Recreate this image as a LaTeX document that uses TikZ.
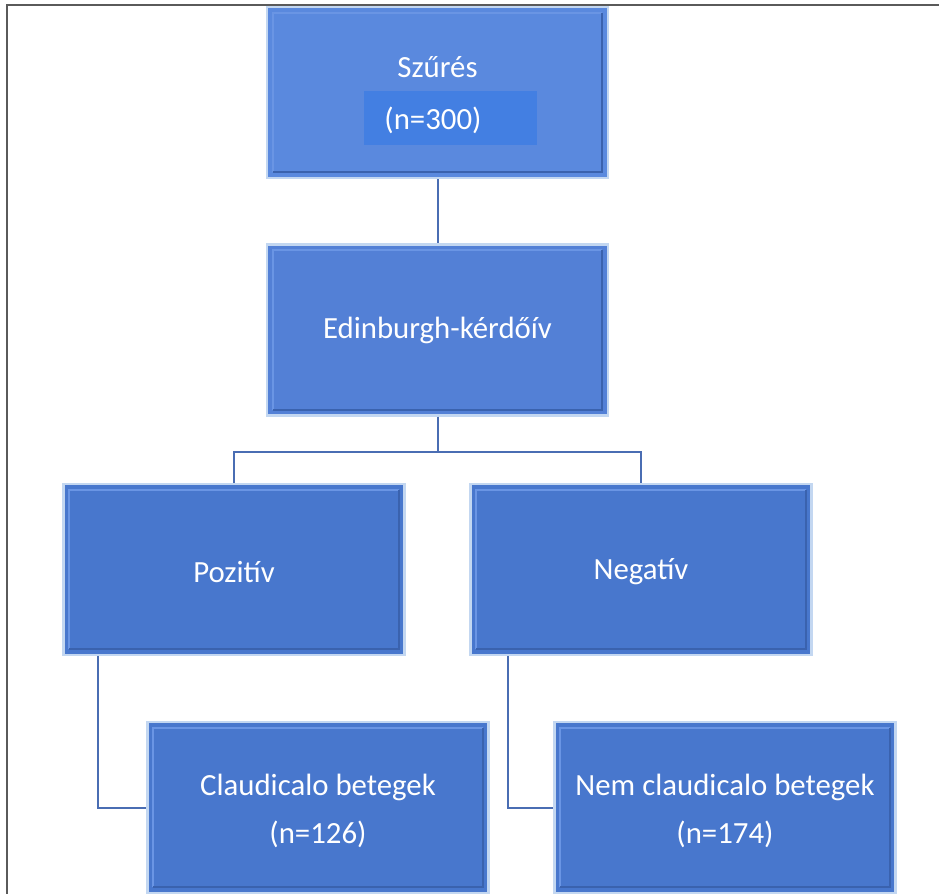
\documentclass[tikz,border=0pt]{standalone}
\usepackage{fontspec}
\setmainfont{Carlito}
\definecolor{frame}{HTML}{5A5A5A}
\definecolor{topblue}{HTML}{5A89DE}
\definecolor{midblue}{HTML}{5380D6}
\definecolor{boxblue}{HTML}{4877CD}
\definecolor{edge}{HTML}{C3D7F1}
\definecolor{bevlight}{HTML}{6A95E4}
\definecolor{bevdark}{HTML}{3A62AE}
\definecolor{conn}{HTML}{4A6DB3}
\definecolor{hilite}{HTML}{437FE2}
\tikzset{
  box/.style={rectangle, draw=edge, line width=1.2pt, minimum width=170.5pt, minimum height=85.5pt, inner sep=0pt},
  lbl/.style={text=white, font=\fontsize{15.4}{19}\selectfont, inner sep=0pt},
  conline/.style={draw=conn, line width=1pt},
}
\begin{document}
\begin{tikzpicture}[x=0.5pt,y=-0.5pt]
\useasboundingbox (0,0) rectangle (939,894);
\clip (0,0) rectangle (939,894);
\fill[white] (0,0) rectangle (939,894);
% frame
\draw[frame, line width=1pt] (7,894) -- (7,5) -- (939,5);
% boxes
\node[box, fill=topblue] (s) at (437.5,92.5) {};
\node[box, fill=midblue] (e) at (437.5,330) {};
\node[box, fill=boxblue] (p) at (234,569.5) {};
\node[box, fill=boxblue] (n) at (641,569.5) {};
\node[box, fill=boxblue] (c) at (318,807.5) {};
\node[box, fill=boxblue] (d) at (725,807.5) {};
% bevels
\foreach \b in {s,e,p,n,c,d}{
  \draw[bevlight, line width=1pt] ([shift={(3.5pt,3.5pt)}]\b.south west) |- ([shift={(-3.5pt,-3.5pt)}]\b.north east);
  \draw[bevdark, line width=1.2pt] ([shift={(3.5pt,3.5pt)}]\b.south west) -| ([shift={(-3.5pt,-3.5pt)}]\b.north east);
}
% highlight
\fill[hilite] (364,91) rectangle (537,145);
% texts
\node[lbl] (st) at (437.5,67) {Szűrés};
\node[lbl] (sn) at (433,120) {(n=300)};
\node[lbl] (et) at (437.5,330) {Edinburgh-kérdőív};
\node[lbl] (pt) at (234,572) {Pozitív};
\node[lbl] (nt) at (641,572) {Negatív};
\node[lbl] (ct1) at (318,787) {Claudicalo betegek};
\node[lbl] (ct2) at (318,834) {(n=126)};
\node[lbl] (dt1) at (725,787) {Nem claudicalo betegek};
\node[lbl] (dt2) at (725,834) {(n=174)};
% connectors
\coordinate (j) at (437.5,452);
\draw[conline] (s.south) -- (e.north);
\draw[conline] (e.south) -- (j);
\draw[conline] (p.north) |- (j) -| (n.north);
\draw[conline] ([xshift=-68pt]p.south) |- (c.west);
\draw[conline] ([xshift=-66.5pt]n.south) |- (d.west);
\end{tikzpicture}
\end{document}
